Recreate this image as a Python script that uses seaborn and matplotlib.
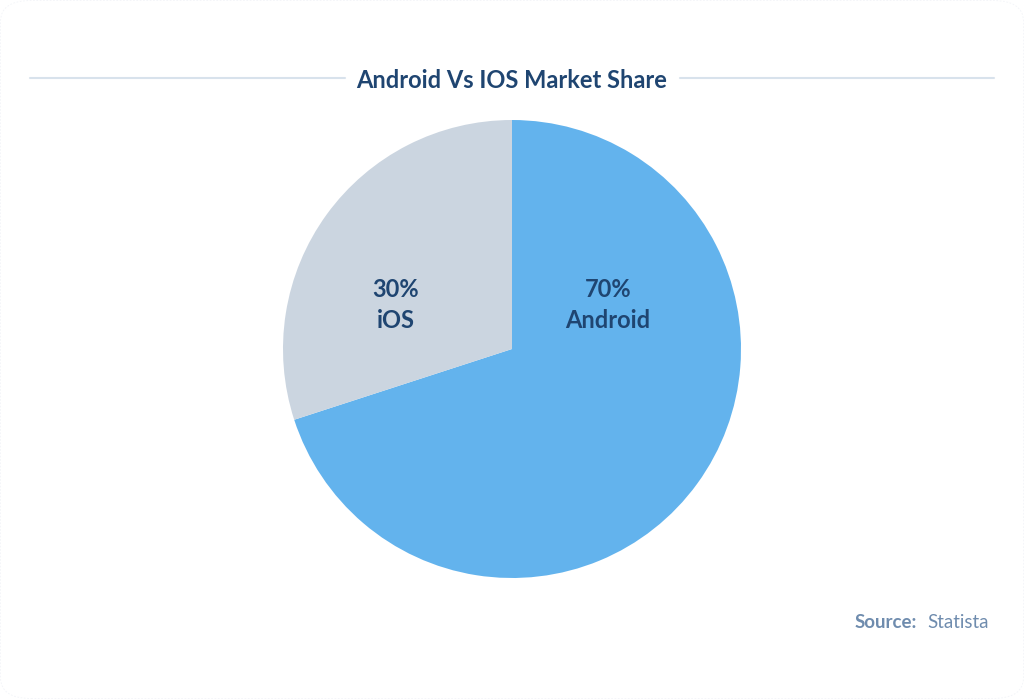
import matplotlib
matplotlib.use("Agg")
import matplotlib.pyplot as plt
from matplotlib.patches import FancyBboxPatch
import seaborn as sns

labels = ["Android", "iOS"]
shares = [70, 30]
colors = ["#63b3ed", "#cbd5e0"]
title = "Android Vs IOS Market Share"
source_bold = "Source:"
source_text = "Statista"

sns.set_theme(style="white")
plt.rcParams['font.family'] = ['Lato', 'DejaVu Sans']

W, H = 1024, 699
fig = plt.figure(figsize=(W / 100, H / 100), dpi=100)
fig.patch.set_facecolor("white")

# card border (very faint)
card = FancyBboxPatch((0.5 / W, 0.5 / H), 1 - 1 / W, 1 - 1 / H,
                      boxstyle="round,pad=0,rounding_size=0.03",
                      transform=fig.transFigure, facecolor="none",
                      edgecolor="#f2f4f8", linewidth=0.6, linestyle=(0, (2, 2)))
fig.patches.append(card)

# title and side rules
navy = "#1f4571"
fig.text(512 / W, 1 - 81 / H, title, ha="center", va="center",
         fontsize=17, fontweight="bold", color=navy)
fig.add_artist(plt.Line2D([30 / W, 345 / W], [1 - 78 / H] * 2,
                          color="#d8e2ec", lw=1.5, transform=fig.transFigure))
fig.add_artist(plt.Line2D([680 / W, 994 / W], [1 - 78 / H] * 2,
                          color="#d8e2ec", lw=1.5, transform=fig.transFigure))

# pie axes: center (512,349), radius 229 px
R = 229
cx, cy = 512, 349
ax = fig.add_axes([(cx - R) / W, 1 - (cy + R) / H, 2 * R / W, 2 * R / H])
ax.pie(shares, colors=colors, startangle=90, counterclock=False,
       radius=1, wedgeprops=dict(linewidth=0))
ax.set_xlim(-1, 1)
ax.set_ylim(-1, 1)
ax.set_aspect("equal")
ax.axis("off")

label_pos = {"Android": (608, 305), "iOS": (396, 305)}
for lab, val in zip(labels, shares):
    px, py = label_pos[lab]
    x = (px - cx) / R
    y = (cy - py) / R
    ax.text(x, y, f"{val}%\n{lab}", ha="center", va="center",
            fontsize=17, fontweight="bold", color=navy, linespacing=1.4)

# source
src_col = "#6f8cae"
fig.text(917 / W, 1 - 623 / H, source_bold, ha="right", va="center",
         fontsize=13.5, fontweight="bold", color=src_col)
fig.text(927 / W, 1 - 623 / H, source_text, ha="left", va="center",
         fontsize=13.5, color=src_col)

fig.savefig("out.png", dpi=100, facecolor="white")
